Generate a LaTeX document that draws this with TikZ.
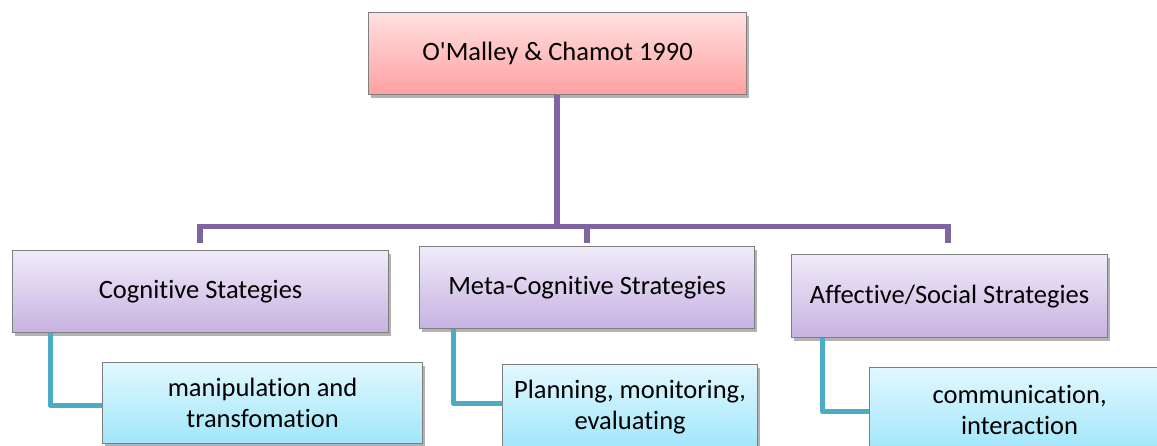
\documentclass[tikz,border=0pt]{standalone}
\usepackage{fontspec}
\newfontfamily\calfont{Carlito}[Ligatures=NoCommon]
\usetikzlibrary{shadows}
\definecolor{purp}{HTML}{8064A2}
\definecolor{teal2}{HTML}{4BACC6}
\definecolor{bord}{HTML}{7F7F7F}
\begin{document}
\begin{tikzpicture}[x=1pt,y=-1pt,
  box/.style={draw=bord,line width=1.2pt,anchor=north west,inner sep=0pt,align=center,
    font=\calfont\fontsize{26.5}{31}\selectfont,
    drop shadow={shadow xshift=2pt,shadow yshift=-3pt,fill=black,opacity=0.3}},
  topbox/.style={box,top color=red!12!white,bottom color={rgb,255:red,255;green,160;blue,160}},
  midbox/.style={box,top color={rgb,255:red,240;green,235;blue,249},bottom color={rgb,255:red,199;green,178;blue,225}},
  lowbox/.style={box,top color={rgb,255:red,226;green,248;blue,255},bottom color={rgb,255:red,160;green,230;blue,250}},
  purpline/.style={draw=purp,line width=5.5pt},
  tealline/.style={draw=teal2,line width=5pt,line join=round}]
\useasboundingbox (0,0) rectangle (1157,446);
\node[topbox,minimum width=378pt,minimum height=82pt] (top) at (368,12) {O'Malley \& Chamot 1990};
\node[midbox,minimum width=376pt,minimum height=82pt] (cog) at (12,250) {Cognitive Stategies};
\node[midbox,minimum width=335pt,minimum height=82pt] (meta) at (419,246) {Meta-Cognitive Strategies};
\node[midbox,minimum width=316pt,minimum height=83pt] (aff) at (791,254) {Affective/Social Strategies};
\node[lowbox,minimum width=320pt,minimum height=81pt] (man) at (102,362) {manipulation and\\transfomation};
\node[lowbox,minimum width=255pt,minimum height=84pt] (plan) at (502,364) {Planning, monitoring,\\evaluating};
\node[lowbox,minimum width=300pt,minimum height=84pt] (comm) at (869,367) {communication,\\interaction};
\coordinate (bj) at (557,226.5);
\coordinate (bl) at (200,226.5);
\coordinate (br) at (948,226.5);
\coordinate (dl) at (200,243);
\coordinate (dm) at (587,243);
\coordinate (dr) at (948,243);
\draw[purpline] (top.south -| bj) -- (bj);
\draw[purpline,line join=miter] (dl) -- (bl) -- (br) -- (dr);
\draw[purpline] (587,226.5) -- (dm);
\draw[tealline] (cog.south -| 50,0) |- (man.west |- 0,405);
\draw[tealline] (meta.south -| 453,0) |- (plan.west |- 0,403);
\draw[tealline] (aff.south -| 822,0) |- (comm.west |- 0,411);
\end{tikzpicture}
\end{document}
